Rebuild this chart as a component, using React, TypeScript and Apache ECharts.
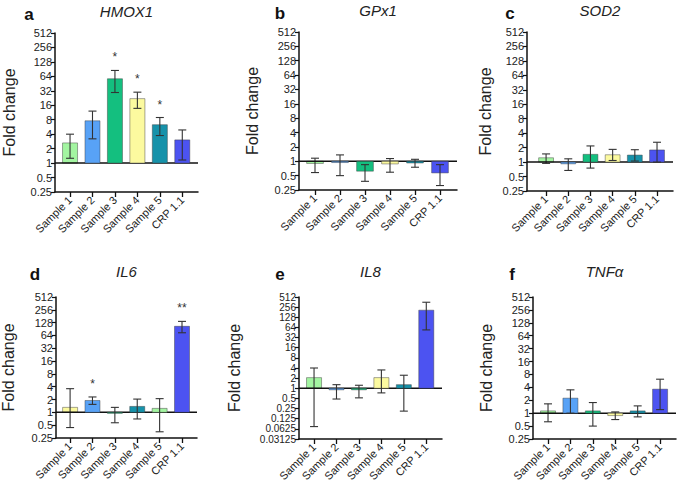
import React, { useEffect, useRef } from "react";
import * as echarts from "echarts";

const categories = ["Sample 1", "Sample 2", "Sample 3", "Sample 4", "Sample 5", "CRP 1.1"];

// Fold-change values (mean, lower and upper error bar ends)
const hmox1Mean = [2.63, 7.6, 57, 22, 6.3, 3.04];
const hmox1Low = [1.26, 3.2, 29.5, 13.8, 3.75, 1.16];
const hmox1High = [4.0, 12.1, 85, 30, 8.9, 4.9];
const hmox1Stars = ["", "", "*", "*", "*", ""];

const gpx1Mean = [0.9, 0.94, 0.62, 0.88, 0.92, 0.57];
const gpx1Low = [0.58, 0.5, 0.38, 0.59, 0.75, 0.31];
const gpx1High = [1.16, 1.36, 0.85, 1.14, 1.1, 0.85];
const gpx1Stars = ["", "", "", "", "", ""];

const sod2Mean = [1.23, 0.92, 1.45, 1.42, 1.4, 1.79];
const sod2Low = [0.94, 0.67, 0.75, 1.08, 1.05, 1.0];
const sod2High = [1.48, 1.17, 2.17, 1.84, 1.81, 2.59];
const sod2Stars = ["", "", "", "", "", ""];

const il6Mean = [1.31, 1.9, 0.95, 1.38, 1.24, 105];
const il6Low = [0.44, 1.54, 0.57, 0.7, 0.35, 74];
const il6High = [3.6, 2.3, 1.31, 2.05, 2.1, 137];
const il6Stars = ["", "*", "", "", "", "**"];

const il8Mean = [2.07, 0.9, 0.9, 2.07, 1.28, 208];
const il8Low = [0.073, 0.48, 0.52, 0.73, 0.21, 54];
const il8High = [4.0, 1.28, 1.23, 3.5, 2.44, 358];
const il8Stars = ["", "", "", "", "", ""];

const tnfMean = [1.13, 2.24, 1.13, 0.88, 1.13, 3.63];
const tnfLow = [0.63, 1.0, 0.5, 0.71, 0.82, 1.21];
const tnfHigh = [1.65, 3.5, 1.77, 1.07, 1.48, 6.2];
const tnfStars = ["", "", "", "", "", ""];

// Y-axis exponent ranges (log2) per panel
const yMinExp = [-2, -2, -2, -2, -5, -2];
const yMaxExp = 9;

const LIGHT_GREEN = "#a3f5a1";
const BLUE = "#58a2f6";
const GREEN = "#14bf7f";
const YELLOW = "#fcfa9f";
const TEAL = "#1692aa";
const VIOLET = "#4c53f1";
const standardColors = [LIGHT_GREEN, BLUE, GREEN, YELLOW, TEAL, VIOLET];
const il6Colors = [YELLOW, BLUE, GREEN, TEAL, LIGHT_GREEN, VIOLET];

const panels = [
  { letter: "a", gene: "HMOX1", mean: hmox1Mean, low: hmox1Low, high: hmox1High, stars: hmox1Stars, colors: standardColors },
  { letter: "b", gene: "GPx1", mean: gpx1Mean, low: gpx1Low, high: gpx1High, stars: gpx1Stars, colors: standardColors },
  { letter: "c", gene: "SOD2", mean: sod2Mean, low: sod2Low, high: sod2High, stars: sod2Stars, colors: standardColors },
  { letter: "d", gene: "IL6", mean: il6Mean, low: il6Low, high: il6High, stars: il6Stars, colors: il6Colors },
  { letter: "e", gene: "IL8", mean: il8Mean, low: il8Low, high: il8High, stars: il8Stars, colors: standardColors },
  { letter: "f", gene: "TNF\u03b1", mean: tnfMean, low: tnfLow, high: tnfHigh, stars: tnfStars, colors: standardColors },
];

// layout: grid rect and x extent
const layout = [
  { left: 55, top: 33, width: 143, height: 159, xmin: -0.67, xmax: 5.7, letterX: 29, letterY: 14, nameX: 9, yFont: 11 },
  { left: 299, top: 32, width: 158, height: 158, xmin: -0.64, xmax: 5.68, letterX: 280, letterY: 13, nameX: 252, yFont: 11 },
  { left: 527, top: 32, width: 146, height: 159, xmin: -0.86, xmax: 5.72, letterX: 510, letterY: 13, nameX: 485, yFont: 11 },
  { left: 56, top: 297, width: 141, height: 141, xmin: -0.63, xmax: 5.67, letterX: 35, letterY: 274, nameX: 8, yFont: 11 },
  { left: 299, top: 297, width: 143, height: 142, xmin: -0.67, xmax: 5.7, letterX: 280, letterY: 274, nameX: 234, yFont: 10 },
  { left: 533, top: 297, width: 143, height: 142, xmin: -0.67, xmax: 5.71, letterX: 512, letterY: 274, nameX: 486, yFont: 11 },
];

const FONT = "'Liberation Sans', Arial, Helvetica, sans-serif";

function fmtPow(v: number) {
  const n = Math.pow(2, Math.round(v));
  return String(n);
}

function buildOption() {
  const grid: any[] = [];
  const xAxis: any[] = [];
  const yAxis: any[] = [];
  const series: any[] = [];
  const graphic: any[] = [];

  panels.forEach((p, k) => {
    const L = layout[k];
    grid.push({ left: L.left, top: L.top, width: L.width, height: L.height, containLabel: false });
    xAxis.push({
      type: "value",
      gridIndex: k,
      min: L.xmin,
      max: L.xmax,
      splitLine: { show: false },
      axisLine: { show: true, onZero: false, lineStyle: { color: "#111", width: 1.5 } },
      axisTick: { show: true, customValues: [0, 1, 2, 3, 4, 5], length: 5, lineStyle: { color: "#111", width: 1.3 } },
      axisLabel: {
        customValues: [0, 1, 2, 3, 4, 5],
        formatter: (v: number) => categories[Math.round(v)] ?? "",
        rotate: 45,
        fontSize: 11,
        color: "#222",
        fontFamily: FONT,
        margin: 6,
        hideOverlap: false,
      },
    });
    const minE = yMinExp[k];
    yAxis.push({
      type: "value",
      gridIndex: k,
      min: minE,
      max: yMaxExp,
      interval: 1,
      splitLine: { show: false },
      axisLine: { show: true, onZero: false, lineStyle: { color: "#111", width: 1.5 } },
      axisTick: { show: true, length: 4, lineStyle: { color: "#111", width: 1.2 } },
      axisLabel: {
        formatter: fmtPow,
        fontSize: L.yFont,
        lineHeight: L.yFont,
        color: "#222",
        fontFamily: FONT,
        margin: 3,
        hideOverlap: false,
        showMinLabel: true,
        showMaxLabel: true,
      },
    });

    const data = p.mean.map((m, i) => [i, Math.log2(m), Math.log2(p.low[i]), Math.log2(p.high[i])]);
    series.push({
      type: "custom",
      xAxisIndex: k,
      yAxisIndex: k,
      data,
      clip: false,
      renderItem: (params: any, api: any) => {
        const i = api.value(0);
        const base = api.coord([i, 0]);
        const top = api.coord([i, api.value(1)]);
        const lo = api.coord([i, api.value(2)]);
        const hi = api.coord([i, api.value(3)]);
        const bw = api.size([1, 0])[0] * 0.67;
        const cs = params.coordSys;
        const children: any[] = [];
        const y0 = Math.min(base[1], top[1]);
        const h = Math.abs(base[1] - top[1]);
        children.push({
          type: "rect",
          shape: { x: base[0] - bw / 2, y: y0, width: bw, height: Math.max(h, 1) },
          style: { fill: p.colors[i], stroke: "rgba(60,60,60,0.45)", lineWidth: 1 },
        });
        const cap = 4;
        children.push({
          type: "line",
          shape: { x1: base[0], y1: lo[1], x2: base[0], y2: hi[1] },
          style: { stroke: "#333", lineWidth: 1.1 },
        });
        children.push({
          type: "line",
          shape: { x1: base[0] - cap, y1: hi[1], x2: base[0] + cap, y2: hi[1] },
          style: { stroke: "#333", lineWidth: 1.1 },
        });
        children.push({
          type: "line",
          shape: { x1: base[0] - cap, y1: lo[1], x2: base[0] + cap, y2: lo[1] },
          style: { stroke: "#333", lineWidth: 1.1 },
        });
        if (p.stars[i]) {
          children.push({
            type: "text",
            x: base[0],
            y: hi[1] - 7,
            style: { text: p.stars[i], align: "center", verticalAlign: "bottom", fontSize: 12, fill: "#333", font: `12px ${FONT}` },
          });
        }
        if (params.dataIndex === 0) {
          children.push({
            type: "line",
            shape: { x1: cs.x, y1: base[1], x2: cs.x + cs.width, y2: base[1] },
            style: { stroke: "#111", lineWidth: 1.5 },
          });
        }
        return { type: "group", children };
      },
    });

    graphic.push({
      type: "text",
      x: L.letterX,
      y: L.letterY,
      style: { text: p.letter, align: "center", verticalAlign: "middle", font: `bold 17px ${FONT}`, fill: "#111" },
    });
    graphic.push({
      type: "text",
      x: L.left + L.width / 2,
      y: L.letterY - 3,
      style: { text: p.gene, align: "center", verticalAlign: "middle", font: `italic 15px ${FONT}`, fill: "#222" },
    });
    graphic.push({
      type: "text",
      x: L.nameX,
      y: L.top + L.height / 2,
      rotation: Math.PI / 2,
      style: { text: "Fold change", align: "center", verticalAlign: "middle", font: `16px ${FONT}`, fill: "#222" },
    });
  });

  return { animation: false, backgroundColor: "#fff", grid, xAxis, yAxis, series, graphic };
}

export default function App() {
  const ref = useRef<HTMLDivElement>(null);
  useEffect(() => {
    if (!ref.current) return;
    const chart = echarts.init(ref.current, null, { renderer: "svg" });
    chart.setOption(buildOption() as any);
    return () => chart.dispose();
  }, []);
  return <div ref={ref} style={{ position: "fixed", left: 0, top: 0, width: 677, height: 486 }} />;
}
